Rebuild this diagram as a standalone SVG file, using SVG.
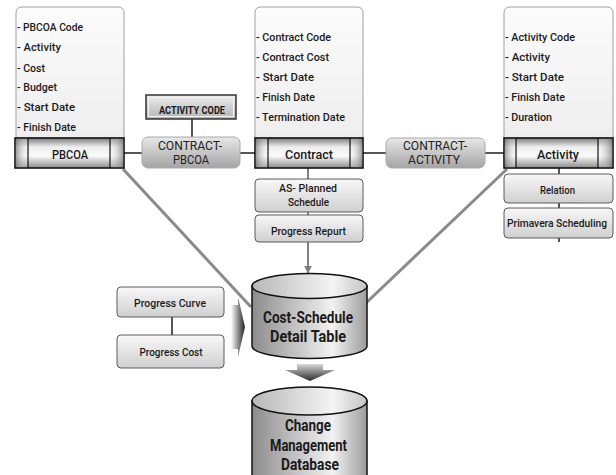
<svg xmlns="http://www.w3.org/2000/svg" width="616" height="475" viewBox="0 0 616 475">
  <defs>
    <linearGradient id="gCard" x1="0" y1="0" x2="0" y2="1">
      <stop offset="0" stop-color="#fcfcfc"/>
      <stop offset="1" stop-color="#eeeeee"/>
    </linearGradient>
    <linearGradient id="gBar" x1="0" y1="0" x2="0" y2="1">
      <stop offset="0" stop-color="#7a7a7a"/>
      <stop offset="0.3" stop-color="#efefef"/>
      <stop offset="0.6" stop-color="#fafafa"/>
      <stop offset="1" stop-color="#8a8a8a"/>
    </linearGradient>
    <linearGradient id="gSideL" x1="0" y1="0" x2="1" y2="0">
      <stop offset="0" stop-color="#777" stop-opacity="0.7"/>
      <stop offset="1" stop-color="#fff" stop-opacity="0.2"/>
    </linearGradient>
    <linearGradient id="gSideR" x1="0" y1="0" x2="1" y2="0">
      <stop offset="0" stop-color="#fff" stop-opacity="0.2"/>
      <stop offset="1" stop-color="#777" stop-opacity="0.7"/>
    </linearGradient>
    <linearGradient id="gBox" x1="0" y1="0" x2="0" y2="1">
      <stop offset="0" stop-color="#f8f8f8"/>
      <stop offset="1" stop-color="#cfcfcf"/>
    </linearGradient>
    <linearGradient id="gTag" x1="0" y1="0" x2="0" y2="1">
      <stop offset="0" stop-color="#e8e8e8"/>
      <stop offset="1" stop-color="#a4a4a4"/>
    </linearGradient>
    <linearGradient id="gCode" x1="0" y1="0" x2="0" y2="1">
      <stop offset="0" stop-color="#ececec"/>
      <stop offset="1" stop-color="#b4b4b4"/>
    </linearGradient>
    <linearGradient id="gCyl" x1="0" y1="0" x2="1" y2="0">
      <stop offset="0" stop-color="#8c8c8c"/>
      <stop offset="0.7" stop-color="#f2f2f2"/>
      <stop offset="1" stop-color="#9c9c9c"/>
    </linearGradient>
    <linearGradient id="gCylTop" x1="0" y1="0" x2="1" y2="0">
      <stop offset="0" stop-color="#b8b8b8"/>
      <stop offset="0.7" stop-color="#f4f4f4"/>
      <stop offset="1" stop-color="#c4c4c4"/>
    </linearGradient>
    <linearGradient id="gDown" x1="0" y1="0" x2="0" y2="1">
      <stop offset="0" stop-color="#d8d8d8"/>
      <stop offset="1" stop-color="#2a2a2a"/>
    </linearGradient>
    <linearGradient id="gRight" x1="0" y1="0" x2="1" y2="0">
      <stop offset="0" stop-color="#ffffff"/>
      <stop offset="1" stop-color="#222222"/>
    </linearGradient>
    <marker id="arrowGray" viewBox="0 0 10 10" refX="9" refY="5" markerWidth="4" markerHeight="4" orient="auto">
      <path d="M0,0 L10,5 L0,10 z" fill="#808080"/>
    </marker>
    <style>
      text { font-family: Roboto, "Liberation Sans", sans-serif; fill: #1a1a1a; }
      .item { font-size: 11px; font-weight: 500; }
      .bar-t { font-size: 13px; font-weight: 500; text-anchor: middle; }
      .tag-t { font-size: 13px; text-anchor: middle; fill: #222; }
      .box-t { font-size: 11px; font-weight: 500; text-anchor: middle; }
      .code-t { font-size: 11px; font-weight: bold; text-anchor: middle; }
      .cyl-t { font-size: 17px; font-weight: bold; text-anchor: middle; }
      .card { fill: url(#gCard); stroke: #a0a0a0; stroke-width: 1; }
      .bar { fill: url(#gBar); stroke: #111; stroke-width: 1.6; }
      .sep { stroke: #111; stroke-width: 1.2; }
      .box { fill: url(#gBox); stroke: #5a5a5a; stroke-width: 1; }
      .tag { fill: url(#gTag); stroke: #aaaaaa; stroke-width: 1; }
      .link { stroke: #2b2b2b; stroke-width: 1.6; fill: none; }
      .feed { stroke: #8a8a8a; stroke-width: 3; fill: none; }
      .stem { stroke: #808080; stroke-width: 2; fill: none; }
      .cyl { fill: url(#gCyl); stroke: #111; stroke-width: 1.5; }
      .cyltop { fill: url(#gCylTop); stroke: #111; stroke-width: 1.5; }
    </style>
  </defs>

  <!-- connectors -->
  <g id="connectors">
    <line class="feed" x1="123" y1="169" x2="251" y2="307"/>
    <line class="feed" x1="507" y1="169" x2="366" y2="303"/>
    <line class="link" x1="124" y1="153" x2="142" y2="153"/>
    <line class="link" x1="192" y1="119" x2="192" y2="137"/>
    <line class="link" x1="240" y1="153" x2="255" y2="153"/>
    <line class="link" x1="363" y1="153" x2="386" y2="153"/>
    <line class="link" x1="485" y1="153" x2="504" y2="153"/>
    <line class="link" x1="559" y1="168" x2="559" y2="174"/>
    <line class="link" x1="559" y1="203" x2="559" y2="208"/>
    <line class="link" x1="559" y1="238" x2="559" y2="242"/>
    <line class="stem" x1="308" y1="168" x2="308" y2="179"/>
    <line class="stem" x1="308" y1="212" x2="308" y2="215"/>
    <line class="stem" x1="308" y1="242" x2="308" y2="273" marker-end="url(#arrowGray)"/>
    <line class="link" x1="172" y1="317" x2="172" y2="335"/>
    <!-- block arrows -->
    <polygon points="231,305 238,305 238,297 245,327 238,357 238,349 231,349" fill="url(#gRight)"/>
    <polygon points="297,364 323,364 323,370 335,370 310,381 285,370 297,370" fill="url(#gDown)"/>
  </g>

  <!-- PBCOA entity -->
  <g id="pbcoa">
    <path class="card" d="M16,138 V13 Q16,7 22,7 H118 Q124,7 124,13 V138 Z"/>
    <text class="item" x="17" y="31" textLength="66" lengthAdjust="spacingAndGlyphs">- PBCOA Code</text>
    <text class="item" x="17" y="51" textLength="44" lengthAdjust="spacingAndGlyphs">- Activity</text>
    <text class="item" x="17" y="72" textLength="28" lengthAdjust="spacingAndGlyphs">- Cost</text>
    <text class="item" x="17" y="91" textLength="40" lengthAdjust="spacingAndGlyphs">- Budget</text>
    <text class="item" x="17" y="111" textLength="58" lengthAdjust="spacingAndGlyphs">- Start Date</text>
    <text class="item" x="17" y="131" textLength="59" lengthAdjust="spacingAndGlyphs">- Finish Date</text>
    <rect class="bar" x="15" y="138" width="109" height="30"/>
    <rect x="15.8" y="138.8" width="12.2" height="28.4" fill="url(#gSideL)"/>
    <rect x="110" y="138.8" width="13.2" height="28.4" fill="url(#gSideR)"/>
    <line class="sep" x1="28" y1="138" x2="28" y2="168"/>
    <line class="sep" x1="110" y1="138" x2="110" y2="168"/>
    <text class="bar-t" x="70" y="158.5" textLength="36" lengthAdjust="spacingAndGlyphs">PBCOA</text>
  </g>

  <!-- Contract entity -->
  <g id="contract">
    <path class="card" d="M255,138 V13 Q255,7 261,7 H357 Q363,7 363,13 V138 Z"/>
    <text class="item" x="256" y="41" textLength="75" lengthAdjust="spacingAndGlyphs">- Contract Code</text>
    <text class="item" x="256" y="61" textLength="73" lengthAdjust="spacingAndGlyphs">- Contract Cost</text>
    <text class="item" x="256" y="81" textLength="58" lengthAdjust="spacingAndGlyphs">- Start Date</text>
    <text class="item" x="256" y="101" textLength="59" lengthAdjust="spacingAndGlyphs">- Finish Date</text>
    <text class="item" x="256" y="121" textLength="89" lengthAdjust="spacingAndGlyphs">- Termination Date</text>
    <rect class="bar" x="255" y="138" width="108" height="30"/>
    <rect x="255.8" y="138.8" width="12.2" height="28.4" fill="url(#gSideL)"/>
    <rect x="350" y="138.8" width="12.2" height="28.4" fill="url(#gSideR)"/>
    <line class="sep" x1="268" y1="138" x2="268" y2="168"/>
    <line class="sep" x1="350" y1="138" x2="350" y2="168"/>
    <text class="bar-t" x="309" y="158.5" textLength="48" lengthAdjust="spacingAndGlyphs">Contract</text>
  </g>

  <!-- Activity entity -->
  <g id="activity">
    <path class="card" d="M504,138 V13 Q504,7 510,7 H607 Q613,7 613,13 V138 Z"/>
    <text class="item" x="505" y="41" textLength="70" lengthAdjust="spacingAndGlyphs">- Activity Code</text>
    <text class="item" x="505" y="61" textLength="45" lengthAdjust="spacingAndGlyphs">- Activity</text>
    <text class="item" x="505" y="81" textLength="59" lengthAdjust="spacingAndGlyphs">- Start Date</text>
    <text class="item" x="505" y="101" textLength="60" lengthAdjust="spacingAndGlyphs">- Finish Date</text>
    <text class="item" x="505" y="121" textLength="47" lengthAdjust="spacingAndGlyphs">- Duration</text>
    <rect class="bar" x="504" y="138" width="109" height="30"/>
    <rect x="504.8" y="138.8" width="11.2" height="28.4" fill="url(#gSideL)"/>
    <rect x="598" y="138.8" width="14.2" height="28.4" fill="url(#gSideR)"/>
    <line class="sep" x1="516" y1="138" x2="516" y2="168"/>
    <line class="sep" x1="598" y1="138" x2="598" y2="168"/>
    <text class="bar-t" x="558" y="158.5" textLength="42" lengthAdjust="spacingAndGlyphs">Activity</text>
  </g>

  <!-- Activity code key -->
  <g id="activity-code">
    <rect x="146" y="95" width="90" height="24" fill="url(#gCode)" stroke="#333" stroke-width="1.5"/>
    <rect x="148.5" y="97.5" width="85" height="19" fill="none" stroke="#f4f4f4" stroke-width="1"/>
    <text class="code-t" x="192" y="114" textLength="66" lengthAdjust="spacingAndGlyphs">ACTIVITY CODE</text>
  </g>

  <!-- Relationship tags -->
  <g id="contract-pbcoa">
    <rect class="tag" x="142" y="137" width="98" height="31" rx="6"/>
    <text class="tag-t" x="190" y="149.5" textLength="64" lengthAdjust="spacingAndGlyphs">CONTRACT-</text>
    <text class="tag-t" x="191" y="164" textLength="36" lengthAdjust="spacingAndGlyphs">PBCOA</text>
  </g>
  <g id="contract-activity">
    <rect class="tag" x="386" y="138" width="99" height="30" rx="6"/>
    <text class="tag-t" x="435" y="149.5" textLength="64" lengthAdjust="spacingAndGlyphs">CONTRACT-</text>
    <text class="tag-t" x="434" y="164" textLength="52" lengthAdjust="spacingAndGlyphs">ACTIVITY</text>
  </g>

  <!-- Activity detail boxes -->
  <g id="relation">
    <rect class="box" x="504" y="174" width="109" height="29" rx="4"/>
    <text class="box-t" x="557.5" y="193.5" textLength="35" lengthAdjust="spacingAndGlyphs">Relation</text>
  </g>
  <g id="primavera">
    <rect class="box" x="504" y="208" width="109" height="30" rx="4"/>
    <text class="box-t" x="557" y="227" textLength="100" lengthAdjust="spacingAndGlyphs">Primavera Scheduling</text>
  </g>

  <!-- Contract detail boxes -->
  <g id="as-planned">
    <rect class="box" x="255" y="179" width="108" height="33" rx="4"/>
    <text class="box-t" x="308" y="192" textLength="58" lengthAdjust="spacingAndGlyphs">AS- Planned</text>
    <text class="box-t" x="308.5" y="206" textLength="41" lengthAdjust="spacingAndGlyphs">Schedule</text>
  </g>
  <g id="progress-report">
    <rect class="box" x="255" y="215" width="108" height="27" rx="4"/>
    <text class="box-t" x="308.5" y="235" textLength="75" lengthAdjust="spacingAndGlyphs">Progress Repurt</text>
  </g>

  <!-- Progress boxes -->
  <g id="progress-curve">
    <rect class="box" x="117" y="287" width="107" height="30" rx="4"/>
    <text class="box-t" x="170" y="307" textLength="72" lengthAdjust="spacingAndGlyphs">Progress Curve</text>
  </g>
  <g id="progress-cost">
    <rect class="box" x="117" y="335" width="107" height="33" rx="4"/>
    <text class="box-t" x="171" y="356" textLength="63" lengthAdjust="spacingAndGlyphs">Progress Cost</text>
  </g>

  <!-- Cost-schedule table -->
  <g id="cost-schedule">
    <path class="cyl" d="M252,286 V346 A57.5,12.5 0 0 0 367,346 V286 Z"/>
    <ellipse class="cyltop" cx="309.5" cy="286" rx="57.5" ry="12.5"/>
    <text class="cyl-t" x="308" y="323" textLength="90" lengthAdjust="spacingAndGlyphs">Cost-Schedule</text>
    <text class="cyl-t" x="308" y="342" textLength="76" lengthAdjust="spacingAndGlyphs">Detail Table</text>
  </g>

  <!-- Change management database -->
  <g id="change-db">
    <path class="cyl" d="M252,401 V490 H367 V401 Z"/>
    <ellipse class="cyltop" cx="309.5" cy="401" rx="57.5" ry="14"/>
    <text class="cyl-t" x="308" y="431" textLength="46" lengthAdjust="spacingAndGlyphs">Change</text>
    <text class="cyl-t" x="308.5" y="451" textLength="77" lengthAdjust="spacingAndGlyphs">Management</text>
    <text class="cyl-t" x="310" y="470" textLength="58" lengthAdjust="spacingAndGlyphs">Database</text>
  </g>
</svg>
